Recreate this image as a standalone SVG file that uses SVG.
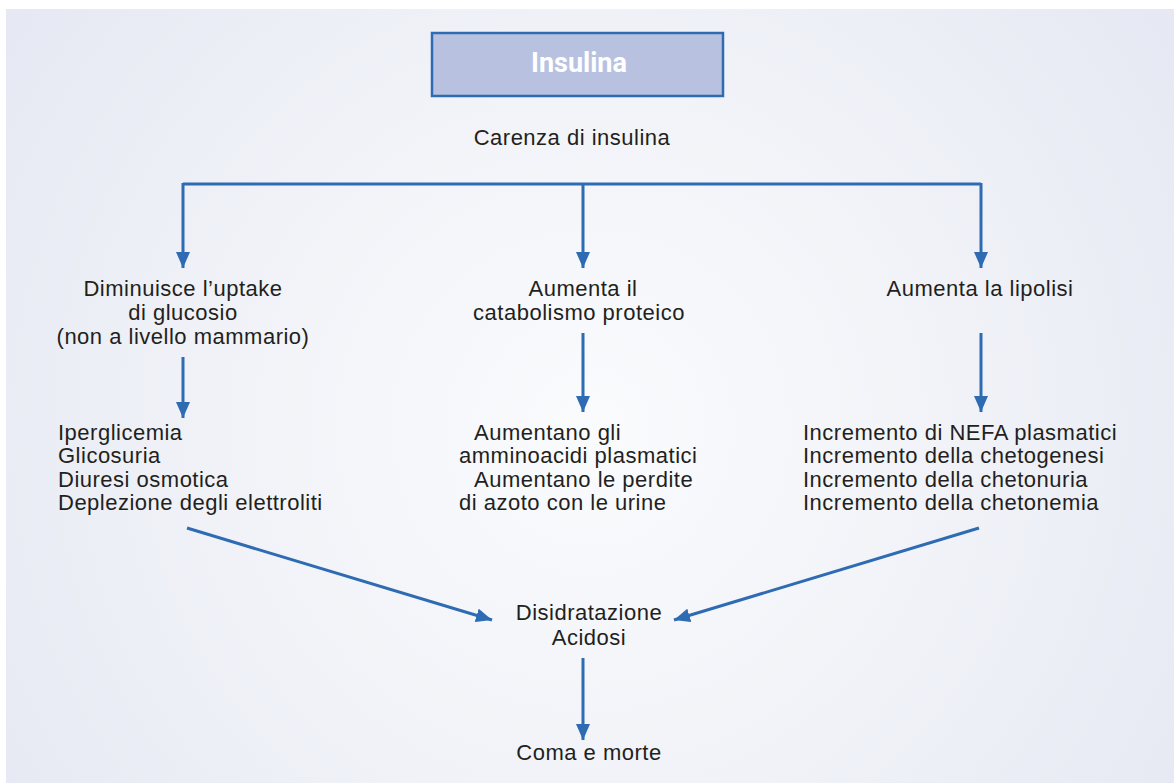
<svg xmlns="http://www.w3.org/2000/svg" width="1174" height="783" viewBox="0 0 1174 783">
<defs>
<radialGradient id="bg" cx="590" cy="430" r="700" gradientUnits="userSpaceOnUse">
<stop offset="0" stop-color="#fafbfd"/>
<stop offset="0.5" stop-color="#f1f3f8"/>
<stop offset="1" stop-color="#e6e9f3"/>
</radialGradient>
<marker id="ah" markerUnits="userSpaceOnUse" markerWidth="16" markerHeight="14" refX="16" refY="7" orient="auto">
<path d="M0,0 L16,7 L0,14 z" fill="#2e6bb3"/>
</marker>
<style>
.t{font-family:"Liberation Sans",Arial,sans-serif;font-size:22px;letter-spacing:0.5px;fill:#231f20}
.c{text-anchor:middle}
.ln{stroke:#2e6bb3;stroke-width:3;fill:none}
.ar{stroke:#2e6bb3;stroke-width:3;fill:none;marker-end:url(#ah)}
</style>
</defs>
<rect x="0" y="0" width="1174" height="783" fill="#ffffff"/>
<rect x="6" y="9" width="1168" height="774" fill="url(#bg)"/>
<g id="connectors">
<path class="ln" d="M183,184 H981"/>
<path class="ar" d="M183,183 V268"/>
<path class="ar" d="M583,184 V268"/>
<path class="ar" d="M981,183 V268"/>
<path class="ar" d="M183,357 V418"/>
<path class="ar" d="M583,333 V412"/>
<path class="ar" d="M981,333 V412"/>
<path class="ar" d="M187,528 L492,620"/>
<path class="ar" d="M979,528 L674,620"/>
<path class="ar" d="M583,658 V740"/>
</g>
<g id="insulina">
<rect x="432" y="33" width="291" height="63" fill="#b8c2e0" stroke="#2e6bb3" stroke-width="2.5"/>
<text x="579" y="72" text-anchor="middle" style="font-family:Roboto,'Liberation Sans',sans-serif;font-weight:bold;font-size:27px;fill:#ffffff">Insulina</text>
</g>
<g id="carenza">
<text class="t c" x="572" y="145">Carenza di insulina</text>
</g>
<g id="uptake">
<text class="t c" x="183" y="296">Diminuisce l’uptake</text>
<text class="t c" x="183" y="320">di glucosio</text>
<text class="t c" x="183" y="344">(non a livello mammario)</text>
</g>
<g id="catabolismo">
<text class="t c" x="583" y="296">Aumenta il</text>
<text class="t c" x="579" y="320">catabolismo proteico</text>
</g>
<g id="lipolisi">
<text class="t c" x="980" y="296">Aumenta la lipolisi</text>
</g>
<g id="effetti-glucosio">
<text class="t" x="58" y="440">Iperglicemia</text>
<text class="t" x="58" y="463">Glicosuria</text>
<text class="t" x="58" y="487">Diuresi osmotica</text>
<text class="t" x="58" y="510">Deplezione degli elettroliti</text>
</g>
<g id="effetti-proteici">
<text class="t" x="474" y="440">Aumentano gli</text>
<text class="t" x="459" y="463">amminoacidi plasmatici</text>
<text class="t" x="474" y="487">Aumentano le perdite</text>
<text class="t" x="459" y="510">di azoto con le urine</text>
</g>
<g id="effetti-lipolisi">
<text class="t" x="803" y="440">Incremento di NEFA plasmatici</text>
<text class="t" x="803" y="463">Incremento della chetogenesi</text>
<text class="t" x="803" y="487">Incremento della chetonuria</text>
<text class="t" x="803" y="510">Incremento della chetonemia</text>
</g>
<g id="disidratazione">
<text class="t c" x="589" y="620">Disidratazione</text>
<text class="t c" x="589" y="645">Acidosi</text>
</g>
<g id="coma">
<text class="t c" x="589" y="760">Coma e morte</text>
</g>
</svg>
